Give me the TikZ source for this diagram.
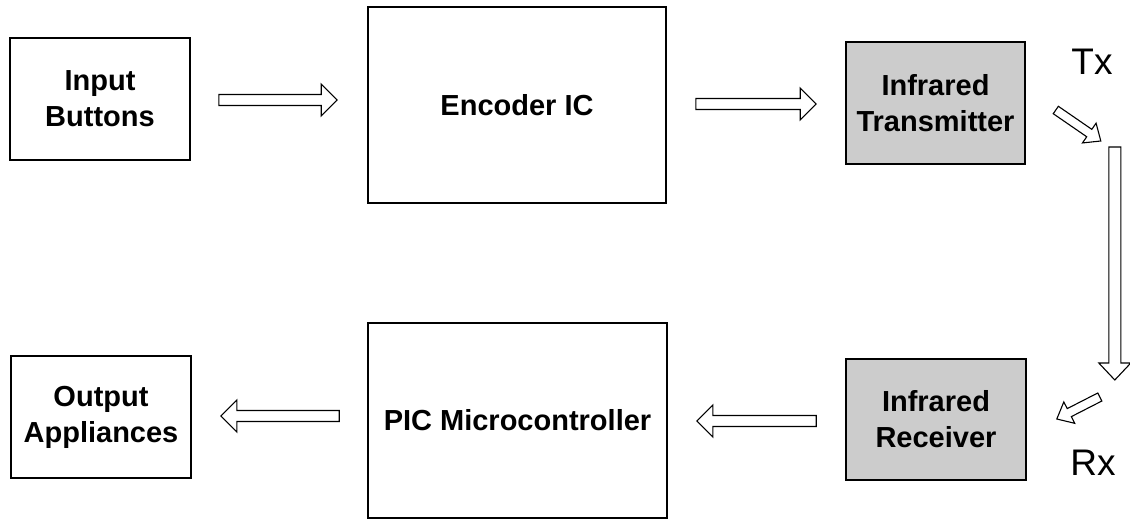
\documentclass[tikz,border=0pt]{standalone}
\usepackage{fontspec}
\setmainfont{Liberation Sans}
\usetikzlibrary{calc}
\tikzset{
  block/.style={draw=black, line width=1.6pt, fill=white, inner sep=0pt, align=center,
    font=\bfseries\fontsize{29}{36}\selectfont},
  irblock/.style={block, fill=black!20},
  hollow/.style={draw=black, line width=1.1pt, fill=white, line join=miter},
  sig/.style={font=\fontsize{37}{40}\selectfont, inner sep=0pt},
}
% hollow block arrow: from, to, shaft half-width, head half-width, head length
\newcommand\hollowarrow[5]{%
  \coordinate (ha-s) at (#1);
  \coordinate (ha-e) at (#2);
  \coordinate (ha-h) at ($(ha-e)!#5!(ha-s)$);
  \draw[hollow] ($(ha-s)!#3!90:(ha-e)$) -- ($(ha-h)!#3!90:(ha-e)$)
    -- ($(ha-h)!#4!90:(ha-e)$) -- (ha-e) -- ($(ha-h)!#4!-90:(ha-e)$)
    -- ($(ha-h)!#3!-90:(ha-e)$) -- ($(ha-s)!#3!-90:(ha-e)$) -- cycle;
}
\begin{document}
\begin{tikzpicture}[x=1pt,y=-1pt]
\useasboundingbox (0,0) rectangle (1130,519);

% blocks
\node[block, minimum width=180pt, minimum height=122pt] (inp) at (100,99) {Input\\Buttons};
\node[block, minimum width=298pt, minimum height=196pt] (enc) at (517,105) {Encoder IC};
\node[irblock, minimum width=179pt, minimum height=122pt] (tx) at (935.5,103) {Infrared\\Transmitter};
\node[irblock, minimum width=180pt, minimum height=121pt] (rx) at (936,419.5) {Infrared\\Receiver};
\node[block, minimum width=299pt, minimum height=195pt] (pic) at (517.5,420.5) {PIC Microcontroller};
\node[block, minimum width=180pt, minimum height=122pt] (out) at (101,417) {Output\\Appliances};

% link labels
\node[sig] (txl) at (1092,61.5) {Tx};
\node[sig] (rxl) at (1093,462.5) {Rx};

% arrow end points
\coordinate (a1s) at ($(inp.east)+(28,1)$);
\coordinate (a1e) at ($(enc.west)+(-30,-5)$);
\coordinate (a2s) at ($(enc.east)+(29,-1)$);
\coordinate (a2e) at ($(tx.west)+(-29,1)$);
\coordinate (a3s) at ($(tx.east)+(30,7)$);
\coordinate (a3e) at ($(tx.east)+(75,38)$);
\coordinate (a4s) at ($(tx.east)+(89,44)$);
\coordinate (a4e) at ($(rx.east)+(88,-39.5)$);
\coordinate (a5s) at ($(rx.east)+(73,-22.5)$);
\coordinate (a5e) at ($(rx.east)+(30,-0.5)$);
\coordinate (a6s) at ($(rx.west)+(-29,1.5)$);
\coordinate (a6e) at ($(pic.east)+(29,0.5)$);
\coordinate (a7s) at ($(pic.west)+(-28,-4.5)$);
\coordinate (a7e) at ($(out.east)+(29,-1)$);

% signal flow
\hollowarrow{a1s}{a1e}{5.5pt}{16pt}{16pt}
\hollowarrow{a2s}{a2e}{5.5pt}{16pt}{16pt}
\hollowarrow{a3s}{a3e}{4.5pt}{12pt}{14pt}
\hollowarrow{a4s}{a4e}{6pt}{16pt}{17pt}
\hollowarrow{a5s}{a5e}{4.5pt}{12pt}{14pt}
\hollowarrow{a6s}{a6e}{5.5pt}{16pt}{16pt}
\hollowarrow{a7s}{a7e}{5.5pt}{16pt}{16pt}
\end{tikzpicture}
\end{document}
